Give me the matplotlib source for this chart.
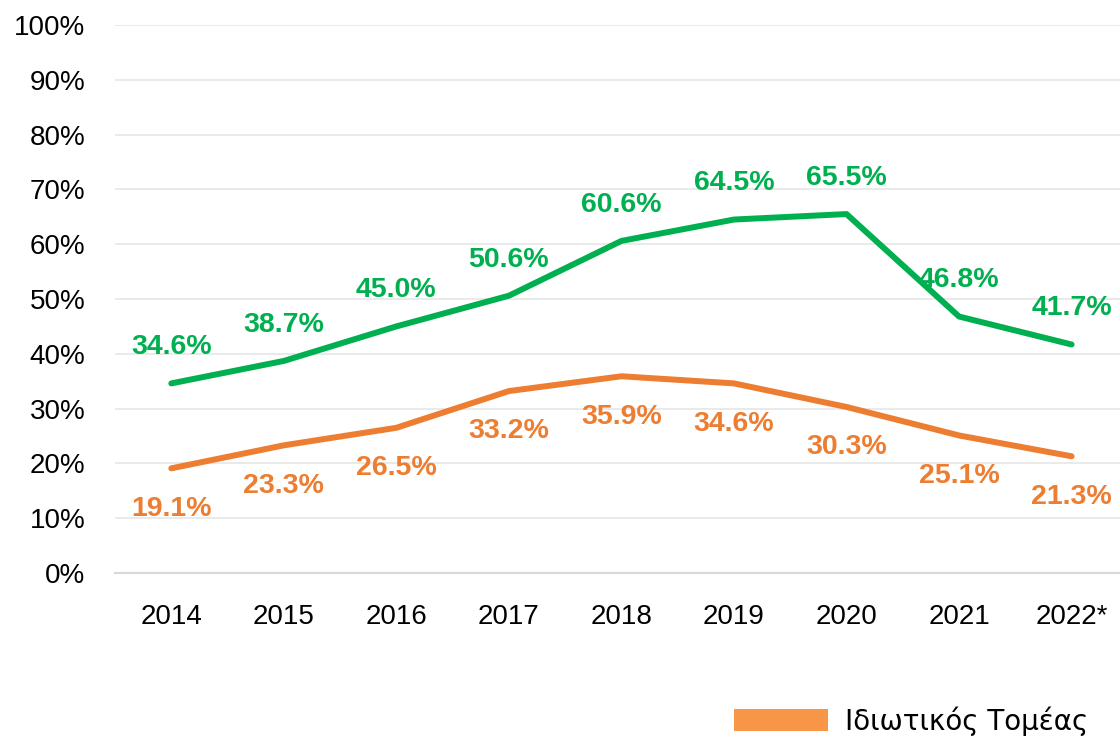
import matplotlib.pyplot as plt
from matplotlib.patches import Patch

# Data
years = ['2014', '2015', '2016', '2017', '2018', '2019', '2020', '2021', '2022*']
green_vals = [34.6, 38.7, 45.0, 50.6, 60.6, 64.5, 65.5, 46.8, 41.7]
private_vals = [19.1, 23.3, 26.5, 33.2, 35.9, 34.6, 30.3, 25.1, 21.3]
legend_label = 'Ιδιωτικός Τομέας'

green = '#00B050'
orange = '#ED7D31'
legend_orange = '#F79646'

plt.rcParams['font.family'] = ['Liberation Sans', 'DejaVu Sans']

fig = plt.figure(figsize=(11.2, 7.39), dpi=100)
ax = fig.add_axes([0.1027, 0.2246, 0.8973, 0.7416])

x = list(range(len(years)))
ax.plot(x, green_vals, color=green, lw=4.3, solid_capstyle='round', zorder=3)
ax.plot(x, private_vals, color=orange, lw=4.3, solid_capstyle='round', zorder=3)

for xi, v in zip(x, green_vals):
    ax.annotate(f'{v:.1f}%', (xi, v), xytext=(0, 26), textcoords='offset points',
                ha='center', va='center', fontsize=20.5, fontweight='bold', color=green)
for xi, v in zip(x, private_vals):
    ax.annotate(f'{v:.1f}%', (xi, v), xytext=(0, -29), textcoords='offset points',
                ha='center', va='center', fontsize=20.5, fontweight='bold', color=orange)

ax.set_xlim(-0.5, 8.43)
ax.set_ylim(0, 100)
ax.set_yticks(range(0, 101, 10))
ax.set_yticklabels([f'{t}%' for t in range(0, 101, 10)])
ax.set_xticks(x)
ax.set_xticklabels(years)
ax.tick_params(axis='both', length=0, labelsize=20, colors='black')
ax.tick_params(axis='y', pad=21.5)
ax.tick_params(axis='x', pad=22)

ax.grid(axis='y', color='#E8E8E8', lw=1.3)
ax.set_axisbelow(True)
for s in ['top', 'right', 'left']:
    ax.spines[s].set_visible(False)
ax.spines['bottom'].set_color('#D9D9D9')
ax.spines['bottom'].set_linewidth(1.6)

handle = Patch(facecolor=legend_orange, edgecolor='none')
fig.legend([handle], [legend_label], loc='center right', bbox_to_anchor=(0.9714, 0.0244),
           frameon=False, handlelength=3.4, handleheight=0.83, handletextpad=0.6,
           borderpad=0, borderaxespad=0, prop={'family': 'DejaVu Sans', 'size': 20})

fig.savefig('out.png', dpi=100)
